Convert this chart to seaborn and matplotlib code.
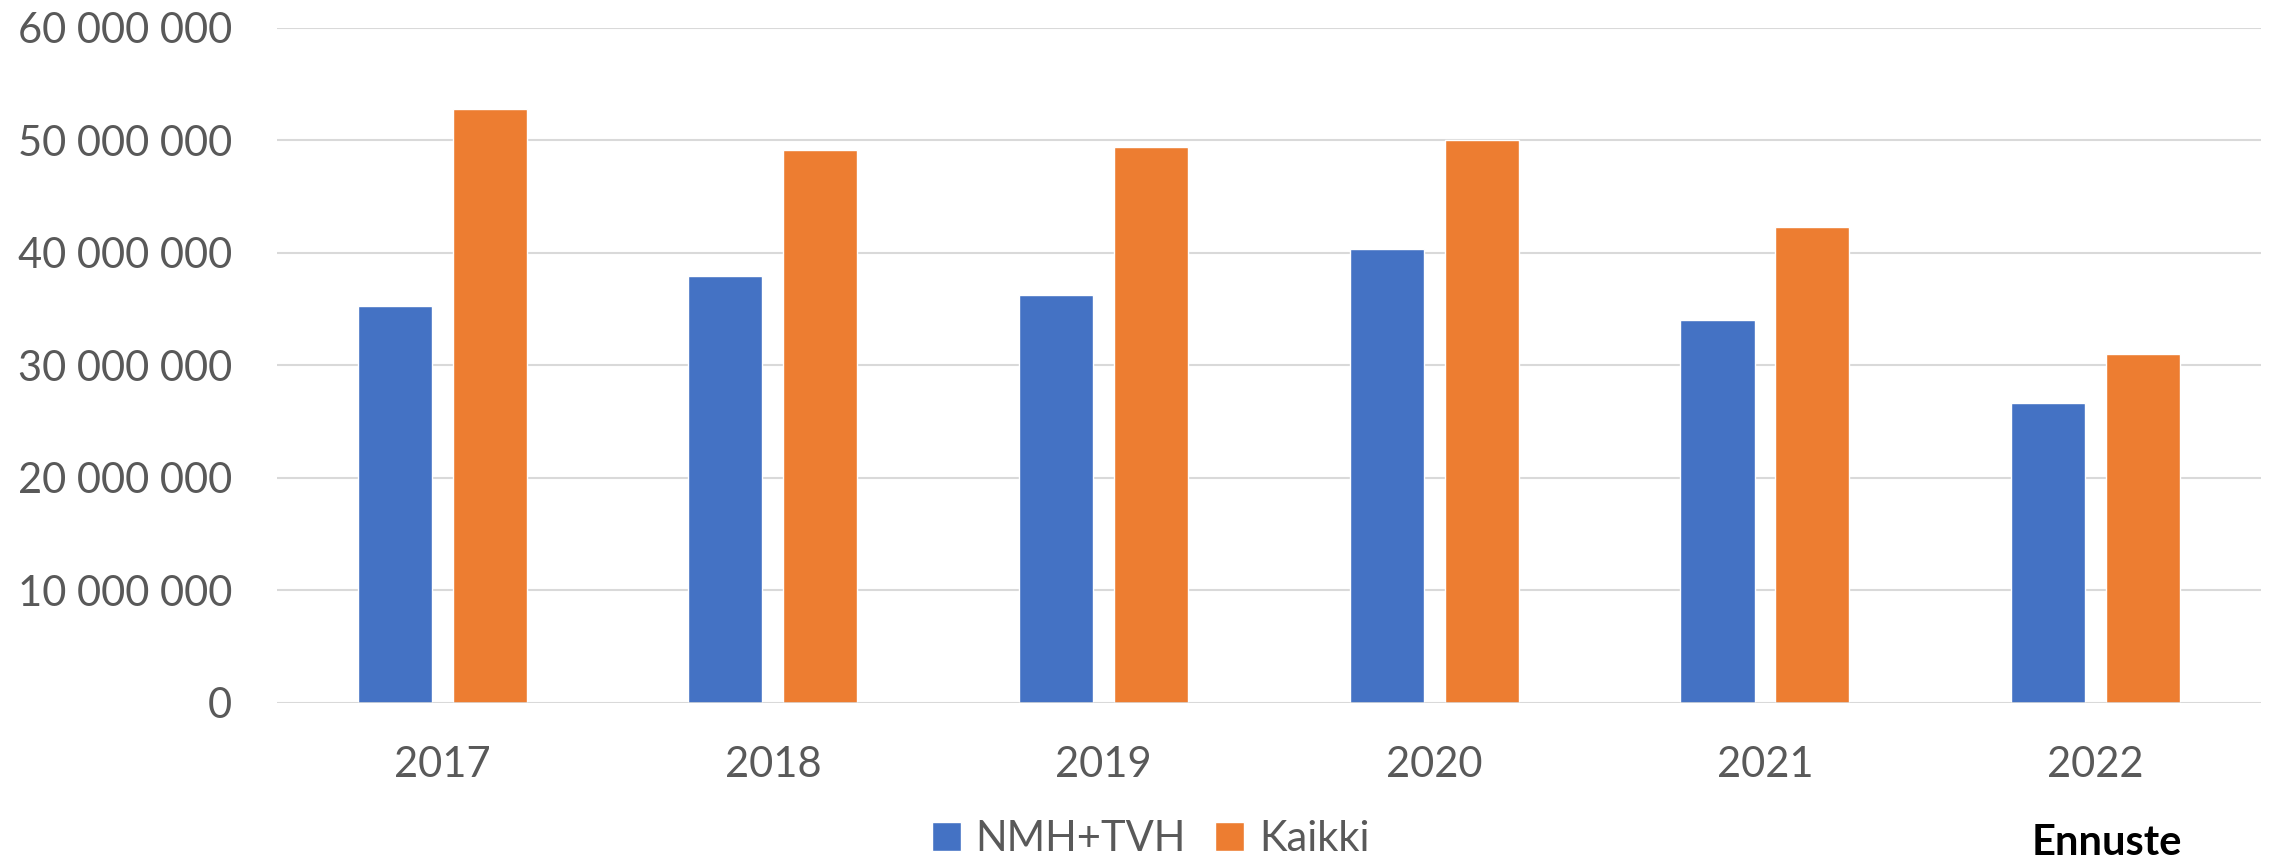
import pandas as pd
import numpy as np
import matplotlib
matplotlib.use('Agg')
import matplotlib.pyplot as plt
import matplotlib.ticker as mticker
import seaborn as sns

# Chart data
years = ['2017', '2018', '2019', '2020', '2021', '2022']
nmh_tvh = [35.3e6, 37.9e6, 36.2e6, 40.3e6, 34.0e6, 26.6e6]
kaikki = [52.8e6, 49.1e6, 49.4e6, 50.0e6, 42.3e6, 31.0e6]
series_names = ['NMH+TVH', 'Kaikki']
colors = ['#4472C4', '#ED7D31']
y_ticks = [0, 10e6, 20e6, 30e6, 40e6, 50e6, 60e6]

df = pd.DataFrame({
    'Vuosi': years * 2,
    'Arvo': nmh_tvh + kaikki,
    'Sarja': [series_names[0]] * len(years) + [series_names[1]] * len(years),
})

sns.set_style('white')
plt.rcParams['font.family'] = ['Lato', 'DejaVu Sans']

fig = plt.figure(figsize=(22.74, 8.65), dpi=100)
ax = fig.add_axes([0.1217, 0.1876, 0.8726, 0.7805])

sns.barplot(data=df, x='Vuosi', y='Arvo', hue='Sarja', order=years,
            hue_order=series_names, palette=colors, width=0.574, gap=0.22,
            saturation=1, errorbar=None, ax=ax, zorder=3)

ax.set_ylim(0, 60e6)
ax.set_xlim(-0.5, len(years) - 0.5)
ax.yaxis.set_major_locator(mticker.FixedLocator(y_ticks))
ax.yaxis.set_major_formatter(mticker.FuncFormatter(lambda v, p: f"{v:,.0f}".replace(',', ' ')))
ax.grid(axis='y', color='#D9D9D9', linewidth=1.5, zorder=0)
ax.set_axisbelow(True)
sns.despine(ax=ax, left=True, top=True, right=True, bottom=True)
ax.axhline(0, color='#D9D9D9', linewidth=1.8, zorder=4)

ax.tick_params(axis='y', length=0, pad=32, labelsize=30, labelcolor='#595959')
ax.tick_params(axis='x', length=0, pad=31, labelsize=30, labelcolor='#595959')
ax.set_xlabel('')
ax.set_ylabel('')

handles, labels = ax.get_legend_handles_labels()
ax.get_legend().remove()
leg = fig.legend(handles, labels, loc='center', bbox_to_anchor=(0.506, 0.030),
                 ncol=2, frameon=False, fontsize=30, handlelength=0.7,
                 handleheight=0.7, handletextpad=0.35, columnspacing=0.7,
                 borderpad=0)
for t in leg.get_texts():
    t.set_color('#595959')

fig.text(0.9266, 0.026, 'Ennuste', ha='center', va='center', fontsize=30,
         fontweight='bold', color='#000000')

fig.savefig('out.png', dpi=100)
